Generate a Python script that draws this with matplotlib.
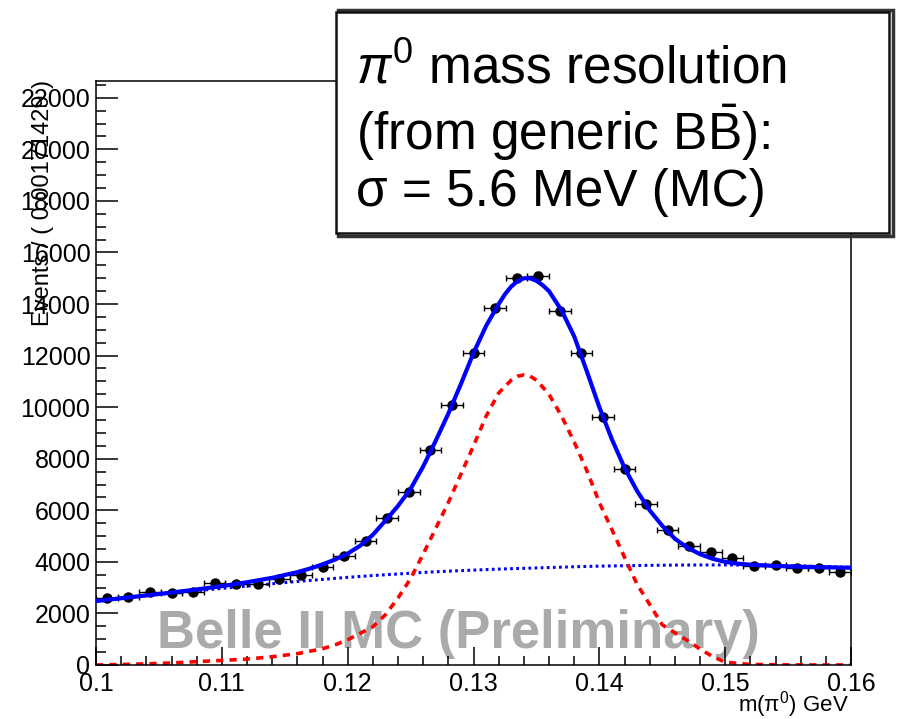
import numpy as np
import matplotlib
matplotlib.use("Agg")
import matplotlib.pyplot as plt
from matplotlib.patches import Rectangle
from matplotlib.ticker import MultipleLocator, FuncFormatter

plt.rcParams['font.family'] = ['Liberation Sans', 'DejaVu Sans']
plt.rcParams['mathtext.fontset'] = 'custom'
plt.rcParams['mathtext.rm'] = 'Liberation Sans'
plt.rcParams['mathtext.it'] = 'Liberation Sans:italic'

# histogram: 35 bins between 0.10 and 0.16 GeV
x_lo, x_hi, n_bins = 0.10, 0.16, 35
counts = [2600, 2650, 2830, 2800, 2820, 3190, 3140, 3160, 3330, 3490,
          3810, 4210, 4820, 5690, 6720, 8320, 10090, 12090, 13830, 15000,
          15100, 13720, 12090, 9600, 7600, 6240, 5240, 4620, 4370, 4140,
          3840, 3890, 3780, 3760, 3620]

# fitted curves
fit_x = [0.100, 0.102, 0.104, 0.106, 0.108, 0.110, 0.112, 0.114, 0.116, 0.117,
         0.118, 0.119, 0.120, 0.121, 0.122, 0.123, 0.124, 0.125, 0.126, 0.127,
         0.128, 0.129, 0.130, 0.131, 0.132, 0.1325, 0.133, 0.1335, 0.134, 0.1345,
         0.135, 0.1355, 0.136, 0.137, 0.138, 0.139, 0.140, 0.141, 0.142, 0.143,
         0.144, 0.145, 0.146, 0.147, 0.148, 0.149, 0.150, 0.151, 0.152, 0.154,
         0.156, 0.158, 0.160]
fit_tot = [2480, 2590, 2700, 2810, 2930, 3060, 3210, 3380, 3600, 3740,
           3900, 4090, 4320, 4630, 5050, 5600, 6170, 6830, 7700, 8700,
           9750, 10900, 12100, 13150, 14000, 14380, 14680, 14890, 15000, 15000,
           14900, 14730, 14500, 13750, 12750, 11400, 10000, 8750, 7650, 6750,
           6000, 5400, 4900, 4550, 4300, 4120, 4000, 3930, 3890, 3840,
           3810, 3790, 3770]

sig_x = [0.100, 0.102, 0.104, 0.106, 0.108, 0.110, 0.112, 0.114, 0.116, 0.118,
         0.119, 0.120, 0.121, 0.122, 0.123, 0.124, 0.125, 0.126, 0.127, 0.128,
         0.129, 0.130, 0.131, 0.132, 0.133, 0.1335, 0.134, 0.1345, 0.135, 0.136,
         0.137, 0.138, 0.139, 0.140, 0.141, 0.142, 0.143, 0.144, 0.145, 0.146,
         0.147, 0.148, 0.149, 0.150, 0.152, 0.155, 0.160]
sig_y = [0, 20, 45, 80, 130, 180, 230, 320, 440, 630,
         780, 980, 1230, 1480, 1950, 2600, 3350, 4300, 5300, 6300,
         7400, 8500, 9650, 10550, 11050, 11200, 11250, 11200, 11050, 10500,
         9650, 8650, 7550, 6300, 5250, 4180, 3130, 2350, 1560, 1250,
         950, 620, 330, 110, 20, 3, 0]

bkg_x = [0.100, 0.102, 0.104, 0.106, 0.108, 0.110, 0.112, 0.114, 0.116, 0.118,
         0.120, 0.122, 0.124, 0.126, 0.128, 0.130, 0.132, 0.134, 0.136, 0.138,
         0.140, 0.142, 0.144, 0.146, 0.148, 0.150, 0.152, 0.154, 0.156, 0.158,
         0.160]
bkg_y = [2460, 2580, 2690, 2790, 2880, 2970, 3060, 3150, 3240, 3320,
         3400, 3470, 3530, 3590, 3640, 3680, 3720, 3750, 3780, 3810,
         3835, 3850, 3865, 3875, 3880, 3880, 3875, 3860, 3840, 3815,
         3790]

bw = (x_hi - x_lo) / n_bins
centers = x_lo + bw * (np.arange(n_bins) + 0.5)
counts = np.array(counts, dtype=float)

fig = plt.figure(figsize=(8.97, 7.19), dpi=100)
ax = fig.add_axes([96/897, 1-665/719, 755/897, 584/719])

ax.text(0.4795, 0.029, "Belle II MC (Preliminary)", transform=ax.transAxes,
        ha='center', va='baseline', fontsize=38, fontweight='bold',
        color='#a9abaa', zorder=1)

ax.plot(bkg_x, bkg_y, color='#0000ff', lw=2.2, ls=(0, (0.9, 1.1)), zorder=2)
ax.plot(sig_x, sig_y, color='#ff0000', lw=2.6, ls=(0, (2.0, 1.7)), zorder=2)
ax.errorbar(centers, counts, xerr=bw/2, yerr=np.sqrt(counts), fmt='o',
            color='black', ms=6.5, lw=1, capsize=2.2, zorder=3)
ax.plot(fit_x, fit_tot, color='#0000ff', lw=3.0, zorder=4)

ax.set_xlim(x_lo, x_hi)
ax.set_ylim(0, 22650)
ax.xaxis.set_major_locator(MultipleLocator(0.01))
ax.xaxis.set_minor_locator(MultipleLocator(0.002))
ax.yaxis.set_major_locator(MultipleLocator(2000))
ax.yaxis.set_minor_locator(MultipleLocator(500))
ax.xaxis.set_major_formatter(FuncFormatter(lambda v, p: '%g' % round(v, 3)))
ax.tick_params(which='both', direction='in', top=False, right=False,
               labelsize=18, width=1.1, color='black')
ax.tick_params(axis='y', which='major', length=16, pad=4)
ax.tick_params(axis='y', which='minor', length=7.5)
ax.tick_params(axis='x', which='major', length=13, pad=5)
ax.tick_params(axis='x', which='minor', length=6.5)
for s in ax.spines.values():
    s.set_linewidth(1.1)

fig.text(43/897, 1-80/719, "Events / ( 0.00171429 )", rotation=90,
         ha='center', va='top', fontsize=17)
fig.text(849/897, 1-705/719, r"m($\mathrm{\pi}^{0}$) GeV", ha='right',
         va='center', fontsize=16)

# pasted annotation box with a rough dark frame
shadow = Rectangle((338/897, 1-236/719), 555/897, 226/719,
                   transform=fig.transFigure, facecolor='none',
                   edgecolor='#333333', lw=2.5, zorder=5)
box = Rectangle((336/897, 1-233/719), 553/897, 221/719,
                transform=fig.transFigure, facecolor='white',
                edgecolor='#111111', lw=1.8, zorder=6)
fig.patches.extend([shadow, box])
fig.text(356/897, 1-45/719,
         "$\\pi^{0}$ mass resolution\n(from generic B$\\bar{\\mathrm{B}}$):\n\u03c3 = 5.6 MeV (MC)",
         ha='left', va='top', fontsize=37, linespacing=1.15, zorder=7)

fig.savefig("out.png", dpi=100)
